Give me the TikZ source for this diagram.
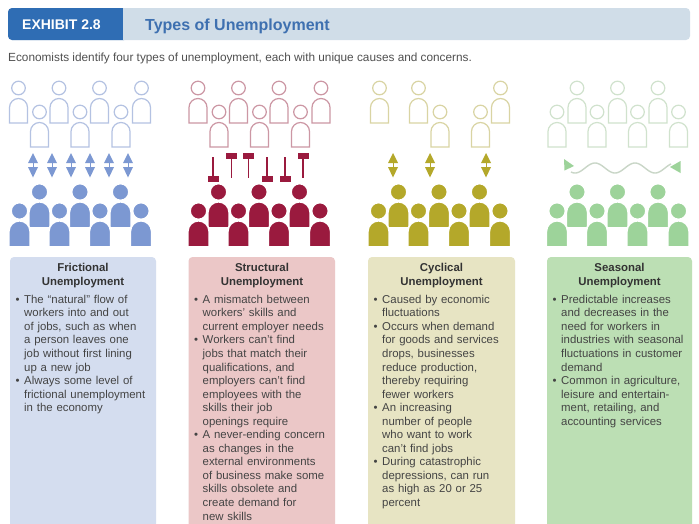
\documentclass[tikz,border=0pt]{standalone}
\usepackage{fontspec}
\setmainfont{Liberation Sans}
\definecolor{hddark}{HTML}{2F6DB4}
\definecolor{hdlight}{HTML}{D0DDE8}
\definecolor{titleblue}{HTML}{3E70B0}
\definecolor{subgray}{HTML}{505050}
\definecolor{headgray}{HTML}{333333}
\definecolor{bodygray}{HTML}{444444}
\definecolor{cAf}{HTML}{7C98D2}
\definecolor{cAl}{HTML}{B4C2E2}
\definecolor{cAb}{HTML}{D4DDEF}
\definecolor{cBf}{HTML}{9A1A3E}
\definecolor{cBl}{HTML}{CC97A4}
\definecolor{cBb}{HTML}{EBC7C7}
\definecolor{cCf}{HTML}{B4A82A}
\definecolor{cCl}{HTML}{D9D4A3}
\definecolor{cCb}{HTML}{E7E4C3}
\definecolor{cDf}{HTML}{9DD39A}
\definecolor{cDl}{HTML}{D0E2CD}
\definecolor{cDb}{HTML}{BCDFB4}
\definecolor{wavegray}{HTML}{C9D6C7}
\newcommand\pfill[3]{%
 \filldraw[fill=#3,draw=white,line width=1.6pt] (#1,#2) circle (8.4pt);
 \filldraw[fill=#3,draw=white,line width=1.6pt] (#1-10.6,#2+35.8) -- (#1-10.6,#2+20.4) arc[start angle=180,end angle=0,radius=10.6pt] -- (#1+10.6,#2+35.8) -- cycle;}
\newcommand\pline[3]{%
 \filldraw[fill=white,draw=#3,line width=1.2pt] (#1,#2) circle (6.8pt);
 \filldraw[fill=white,draw=#3,line width=1.2pt] (#1-9,#2+35) -- (#1-9,#2+19.5) arc[start angle=180,end angle=0,radius=9pt] -- (#1+9,#2+35) -- cycle;}
\newcommand\darr[2]{%
 \fill[#2] (#1,153) -- (#1+5,163) -- (#1-5,163) -- cycle;
 \fill[#2] (#1,177.5) -- (#1+5,167) -- (#1-5,167) -- cycle;
 \draw[#2,line width=0.6pt] (#1,163) -- (#1,167);}
\newcommand\tup[2]{%
 \fill[#2] (#1-5.5,153.3) rectangle (#1+5.5,159.3);
 \draw[#2,line width=1.2pt] (#1,159) -- (#1,178);}
\newcommand\tdown[2]{%
 \draw[#2,line width=1.2pt] (#1,157.3) -- (#1,176.5);
 \fill[#2] (#1-5.5,176) rectangle (#1+5.5,182);}
\newcommand\bl{\par\noindent\hangindent=8.5pt\hangafter=1\makebox[8.5pt][l]{\textbullet}}
\newcommand\firstl{\rule{0pt}{10pt}}
\tikzset{
 bodytext/.style={anchor=north west,text width=160pt,inner sep=0pt,text=bodygray,
   font=\fontsize{11.4}{13.55}\selectfont},
 headtext/.style={anchor=base,inner sep=0pt,text=headgray,
   font=\bfseries\fontsize{11.4}{13}\selectfont},
 boxbg/.style={rounded corners=4pt}
}
\begin{document}
\begin{tikzpicture}[x=1pt,y=-1pt]
\useasboundingbox (0,0) rectangle (699,523);
\fill[white] (0,0) rectangle (699,523);
% header
\fill[hdlight,rounded corners=4pt] (8,8) rectangle (690,40);
\fill[hddark,rounded corners=4pt] (8,8) rectangle (128,40);
\fill[hdlight] (123,8) rectangle (130,40);
\node[anchor=base west,inner sep=0pt,text=white,font=\bfseries\fontsize{14}{14}\selectfont] (exh) at (22,29.5) {EXHIBIT 2.8};
\node[anchor=base west,inner sep=0pt,text=titleblue,font=\bfseries\fontsize{16}{16}\selectfont] (title) at (145,30) {Types of Unemployment};
\node[anchor=base west,inner sep=0pt,text=subgray,font=\fontsize{11.8}{13}\selectfont] (sub) at (8,61) {Economists identify four types of unemployment, each with unique causes and concerns.};
% boxes
\fill[cAb,boxbg] (10,257) rectangle (156,540);
\fill[cBb,boxbg] (188.5,257) rectangle (335,540);
\fill[cCb,boxbg] (368,257) rectangle (515,540);
\fill[cDb,boxbg] (547,257) rectangle (692,540);
% column 1 icons
\foreach \x in {18.5,59,99.5,141.5} {\pline{\x}{88}{cAl}}
\foreach \x in {39.5,80,121} {\pline{\x}{112}{cAl}}
\foreach \x in {33,52,71,90,109,128} {\darr{\x}{cAf}}
\foreach \x in {39.5,80,120.5} {\pfill{\x}{192}{cAf}}
\foreach \x in {19.5,59.5,100,141} {\pfill{\x}{211}{cAf}}
% column 2 icons
\foreach \x in {18.5,59,99.5,141.5} {\pline{\x+179.5}{88}{cBl}}
\foreach \x in {39.5,80,121} {\pline{\x+179.5}{112}{cBl}}
\tdown{213}{cBf}
\tup{231.5}{cBf}
\tup{248.5}{cBf}
\tdown{267}{cBf}
\tdown{285}{cBf}
\tup{303}{cBf}
\foreach \x in {39.5,80,120.5} {\pfill{\x+179}{192}{cBf}}
\foreach \x in {19.5,59.5,100,141} {\pfill{\x+179}{211}{cBf}}
% column 3 icons
\foreach \x in {379.5,418.5,500.5} {\pline{\x}{88}{cCl}}
\foreach \x in {440,480.5} {\pline{\x}{112}{cCl}}
\foreach \x in {393,430,486} {\darr{\x}{cCf}}
\foreach \x in {39.5,80,120.5} {\pfill{\x+359}{192}{cCf}}
\foreach \x in {19.5,59.5,100,141} {\pfill{\x+359}{211}{cCf}}
% column 4 icons
\foreach \x in {39.5,80,120.5} {\pline{\x+537.5}{88}{cDl}}
\foreach \x in {19.5,59.5,100,141} {\pline{\x+537.5}{112}{cDl}}
\draw[wavegray,line width=1.4pt,smooth,samples=80,domain=571:671] plot (\x,{168+5*cos((\x-575)*9)});
\fill[cDf] (564,159) -- (574,166) -- (564.5,170.5) -- cycle;
\fill[cDf] (680.5,161) -- (680.5,173) -- (670,167) -- cycle;
\foreach \x in {39.5,80,120.5} {\pfill{\x+537.5}{192}{cDf}}
\foreach \x in {19.5,59.5,100,141} {\pfill{\x+537.5}{211}{cDf}}
% headings
\node[headtext] (h1a) at (83,271.5) {Frictional};
\node[headtext] (h1b) at (83,285.5) {Unemployment};
\node[headtext] (h2a) at (262,271.5) {Structural};
\node[headtext] (h2b) at (262,285.5) {Unemployment};
\node[headtext] (h3a) at (441.5,271.5) {Cyclical};
\node[headtext] (h3b) at (441.5,285.5) {Unemployment};
\node[headtext] (h4a) at (619.5,271.5) {Seasonal};
\node[headtext] (h4b) at (619.5,285.5) {Unemployment};
% bodies
\node[bodytext] (b1) at (15.5,289.5) {\raggedright\parskip=0pt
\bl\firstl The “natural” flow of\newline workers into and out\newline of jobs, such as when\newline a person leaves one\newline job without first lining\newline up a new job
\bl Always some level of\newline frictional unemployment\newline in the economy\par};
\node[bodytext] (b2) at (194,289.5) {\raggedright\parskip=0pt
\bl\firstl A mismatch between\newline workers’ skills and\newline current employer needs
\bl Workers can’t find\newline jobs that match their\newline qualifications, and\newline employers can’t find\newline employees with the\newline skills their job\newline openings require
\bl A never-ending concern\newline as changes in the\newline external environments\newline of business make some\newline skills obsolete and\newline create demand for\newline new skills\par};
\node[bodytext] (b3) at (373.5,289.5) {\raggedright\parskip=0pt
\bl\firstl Caused by economic\newline fluctuations
\bl Occurs when demand\newline for goods and services\newline drops, businesses\newline reduce production,\newline thereby requiring\newline fewer workers
\bl An increasing\newline number of people\newline who want to work\newline can’t find jobs
\bl During catastrophic\newline depressions, can run\newline as high as 20 or 25\newline percent\par};
\node[bodytext] (b4) at (552.5,289.5) {\raggedright\parskip=0pt
\bl\firstl Predictable increases\newline and decreases in the\newline need for workers in\newline industries with seasonal\newline fluctuations in customer\newline demand
\bl Common in agriculture,\newline leisure and entertain-\newline ment, retailing, and\newline accounting services\par};
\end{tikzpicture}
\end{document}
